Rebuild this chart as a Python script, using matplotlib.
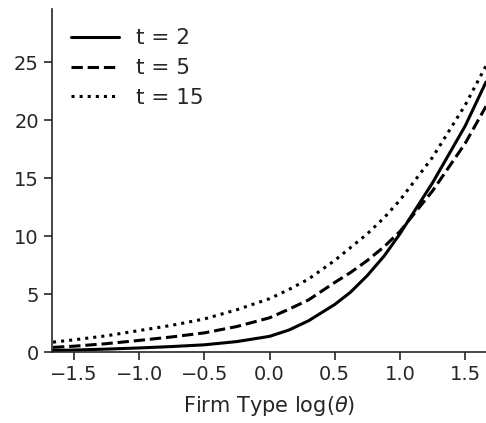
import numpy as np
import matplotlib
matplotlib.use("Agg")
import matplotlib.pyplot as plt
import seaborn as sns

# firm type grid, log(theta)
log_theta = [-1.66, -1.5, -1.25, -1.0, -0.75, -0.5, -0.25, 0.0, 0.15, 0.3,
             0.5, 0.62, 0.75, 0.88, 1.0, 1.25, 1.5, 1.66]

# curves, one per t
val_t2 = [0.13, 0.17, 0.25, 0.35, 0.47, 0.62, 0.9, 1.35, 1.9, 2.7,
          4.1, 5.15, 6.6, 8.3, 10.2, 14.6, 19.5, 23.3]
val_t5 = [0.4, 0.5, 0.72, 1.0, 1.3, 1.65, 2.2, 2.95, 3.7, 4.5,
          6.0, 6.85, 7.9, 9.1, 10.4, 13.9, 18.0, 21.2]
val_t15 = [0.85, 1.05, 1.4, 1.85, 2.3, 2.85, 3.65, 4.6, 5.4, 6.3,
           7.9, 9.0, 10.2, 11.6, 13.1, 16.8, 21.3, 24.7]

labels = ["t = 2", "t = 5", "t = 15"]
styles = ["-", "--", ":"]

sns.set_style("ticks")
plt.rcParams['font.family'] = ['DejaVu Sans']

fig = plt.figure(figsize=(4.86, 4.23), dpi=100)
ax = fig.add_axes([52 / 486, 71 / 423, 434 / 486, 343 / 423])

for vals, lab, ls in zip([val_t2, val_t5, val_t15], labels, styles):
    ax.plot(log_theta, vals, ls, color="black", lw=2.2, label=lab)

ax.set_xlim(-1.668, 1.66)
ax.set_ylim(0, 29.6)
ax.set_xticks([-1.5, -1.0, -0.5, 0.0, 0.5, 1.0, 1.5])
ax.set_yticks([0, 5, 10, 15, 20, 25])
ax.tick_params(labelsize=14, length=6, width=1.2, colors="#262626")
for s in ["left", "bottom"]:
    ax.spines[s].set_linewidth(1.2)
    ax.spines[s].set_color("#262626")
sns.despine(ax=ax)

ax.set_xlabel(r"Firm Type log($\theta$)", fontsize=15, color="#262626",
              labelpad=7)
ax.legend(loc="upper left", frameon=False, fontsize=15.5, handlelength=2.2,
          bbox_to_anchor=(0.0, 1.0), labelspacing=0.45)

fig.savefig("out.png", dpi=100)
